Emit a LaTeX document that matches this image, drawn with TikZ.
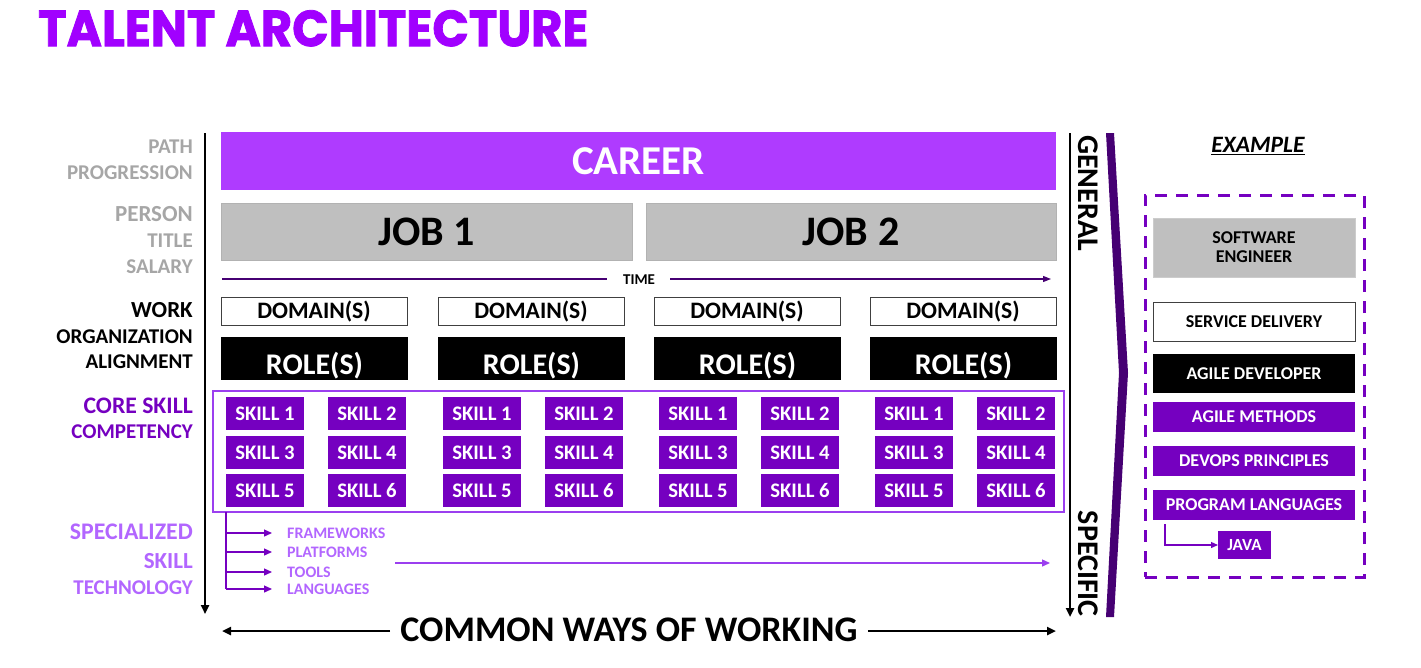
\documentclass[tikz,border=0pt]{standalone}
\usepackage{fontspec}
\setmainfont{Carlito}
\newfontfamily\titlefont{Poppins}[BoldFeatures={FakeBold=1.6}]
\usetikzlibrary{arrows.meta}
\definecolor{ttl}{HTML}{A100FF}
\definecolor{career}{HTML}{AF3BFF}
\definecolor{skl}{HTML}{7500C0}
\definecolor{dark}{HTML}{460073}
\definecolor{lgray}{HTML}{A6A6A6}
\definecolor{boxgray}{HTML}{BFBFBF}
\definecolor{lpurp}{HTML}{B266FF}
\definecolor{midp}{HTML}{9B3FEF}
\newcommand{\fs}[1]{\fontsize{#1}{#1}\selectfont\bfseries}
\tikzset{
  bx0/.style={inner sep=0pt, outer sep=0pt, anchor=north west, align=center},
  bx/.style={bx0, text depth=0pt},
  lbl/.style={inner sep=0pt, anchor=base east},
  careerbox/.style={bx, fill=career, text=white, font=\fs{41}, text height=26pt},
  jobbox/.style={bx, fill=boxgray, draw=black!30, line width=0.8pt, font=\fs{42}, text height=27pt},
  dombox/.style={bx, fill=white, draw=black!75, line width=1pt, font=\fs{23.6}, text height=15pt},
  rolebox/.style={bx, fill=black, text=white, font=\fs{30}, text height=19pt},
  skillbox/.style={bx, fill=skl, text=white, font=\fs{20.7}, text height=13pt},
  exbox/.style={bx, font=\fs{18}, text height=11.5pt},
  axis/.style={line width=2.6pt, -{Triangle[length=9pt,width=8pt]}},
  thin/.style={line width=1.3pt, -{Triangle[length=8pt,width=7pt]}},
}
\begin{document}
\begin{tikzpicture}[x=1pt,y=-1pt]
\useasboundingbox (0,0) rectangle (1421,667);
% title
\node[inner sep=0pt, anchor=north west, text=ttl] (title) at (38,10)
  {\resizebox{550pt}{36pt}{\titlefont\bfseries TALENT ARCHITECTURE}};
% left axis
\coordinate (la1) at (205,133);
\coordinate (la2) at (205,614);
\draw[axis] (la1) -- (la2);
% left labels
\node[lbl, text=lgray, font=\fs{21}] (l1) at (193,153) {PATH};
\node[lbl, text=lgray, font=\fs{21}] (l2) at (193,179) {PROGRESSION};
\node[lbl, text=lgray, font=\fs{23}] (l3) at (193,221) {PERSON};
\node[lbl, text=lgray, font=\fs{21}] (l4) at (193,247) {TITLE};
\node[lbl, text=lgray, font=\fs{21}] (l5) at (193,273) {SALARY};
\node[lbl, text=black, font=\fs{23}] (l6) at (193,317) {WORK};
\node[lbl, text=black, font=\fs{21}] (l7) at (193,343) {ORGANIZATION};
\node[lbl, text=black, font=\fs{21}] (l8) at (193,368) {ALIGNMENT};
\node[lbl, text=skl, font=\fs{23.7}] (l9) at (193,413) {CORE SKILL};
\node[lbl, text=skl, font=\fs{21}] (l10) at (193,438) {COMPETENCY};
\node[lbl, text=lpurp, font=\fs{23.8}] (l11) at (193,539) {SPECIALIZED};
\node[lbl, text=lpurp, font=\fs{23}] (l12) at (193,568) {SKILL};
\node[lbl, text=lpurp, font=\fs{21}] (l13) at (193,594) {TECHNOLOGY};
% career & jobs
\node[careerbox, minimum width=835pt, minimum height=58pt] (career) at (221,132) {CAREER};
\node[jobbox, minimum width=411pt, minimum height=57pt] (job1) at (221,203) {JOB 1};
\node[jobbox, minimum width=410pt, minimum height=57pt] (job2) at (646,203) {JOB 2};
% time
\node[inner sep=0pt, font=\fs{15}] (time) at (639,280) {TIME};
\coordinate (t1) at (222,279);
\coordinate (t2) at (607,279);
\coordinate (t3) at (670,279);
\coordinate (t4) at (1051,279);
\draw[dark, line width=1.2pt] (t1) -- (t2);
\draw[dark, line width=1.2pt, -{Triangle[length=8pt,width=6pt]}] (t3) -- (t4);
% domains, roles, skills
\foreach \gx [count=\g] in {221,438,654,870}{
  \node[dombox, minimum width=186pt, minimum height=28pt] (dom\g) at (\gx,297) {DOMAIN(S)};
  \node[rolebox, minimum width=187pt, minimum height=43pt] (role\g) at (\gx,337) {\raisebox{-6pt}{ROLE(S)}};
  \node[skillbox, minimum width=78pt, minimum height=33pt] (s\g a) at (\gx+5,397) {SKILL 1};
  \node[skillbox, minimum width=78pt, minimum height=33pt] (s\g b) at (\gx+107,397) {SKILL 2};
  \node[skillbox, minimum width=78pt, minimum height=33pt] (s\g c) at (\gx+5,436) {SKILL 3};
  \node[skillbox, minimum width=78pt, minimum height=33pt] (s\g d) at (\gx+107,436) {SKILL 4};
  \node[skillbox, minimum width=78pt, minimum height=33pt] (s\g e) at (\gx+5,474) {SKILL 5};
  \node[skillbox, minimum width=78pt, minimum height=33pt] (s\g f) at (\gx+107,474) {SKILL 6};
}
\node[bx, draw=midp, line width=1.2pt, minimum width=851pt, minimum height=121pt] (skills) at (213,391) {};
% specialized branches
\coordinate (br0) at (226,512);
\coordinate (br4) at (226,589);
\draw[skl, line width=1.3pt] (br0) -- (br4);
\foreach \yy/\tx [count=\i] in {533/FRAMEWORKS,552/PLATFORMS,572/TOOLS,589/LANGUAGES}{
  \coordinate (bs\i) at (226,\yy);
  \node[inner sep=0pt, anchor=west, text=lpurp, font=\fs{16}, text height=10.3pt, text depth=0pt] (sp\i) at (287,\yy) {\tx};
  \draw[skl, thin] (bs\i) -- (272,\yy);
}
\coordinate (lng1) at (395,563);
\coordinate (lng2) at (1050,563);
\draw[midp, thin] (lng1) -- (lng2);
% common ways
\node[inner sep=0pt, font=\fs{36}] (cw) at (629,630) {COMMON WAYS OF WORKING};
\coordinate (cwl) at (222,631);
\coordinate (cwr) at (1056,631);
\draw[line width=2.4pt, -{Triangle[length=9pt,width=8pt]}] (cw.west) ++(-10,1) -- (cwl);
\draw[line width=2.4pt, -{Triangle[length=9pt,width=8pt]}] (cw.east) ++(10,1) -- (cwr);
% right axis
\coordinate (ra1) at (1070,133);
\coordinate (ra2) at (1070,617);
\draw[axis] (ra1) -- (ra2);
\node[inner sep=0pt, rotate=-90, anchor=west, font=\fs{30}] (gen) at (1088,135) {GENERAL};
\node[inner sep=0pt, rotate=-90, anchor=east, font=\fs{30}] (spec) at (1088,617) {SPECIFIC};
% chevron
\fill[dark] (1106,133) -- (1114,133) -- (1128,373) -- (1114,617) -- (1106,617) -- (1119,373) -- cycle;
% example panel
\node[inner sep=0pt, font=\fs{23.5}\itshape] (ex) at (1258,146) {\underline{EXAMPLE}};
\node[bx, draw=skl, line width=3pt, dash pattern=on 12pt off 9pt, minimum width=219pt, minimum height=382pt] (dash) at (1145,195) {};
\node[bx0, font=\fs{18}, fill=boxgray, draw=black!20, line width=0.8pt, minimum width=202pt, minimum height=59pt] (se) at (1153,218) {SOFTWARE\\[1pt]ENGINEER};
\node[exbox, fill=white, draw=black!75, line width=1pt, minimum width=202pt, minimum height=39pt] (sd) at (1153,302) {SERVICE DELIVERY};
\node[exbox, fill=black, text=white, minimum width=202pt, minimum height=39pt] (ad) at (1153,354) {AGILE DEVELOPER};
\node[exbox, fill=skl, text=white, minimum width=202pt, minimum height=30pt] (am) at (1153,402) {AGILE METHODS};
\node[exbox, fill=skl, text=white, minimum width=202pt, minimum height=30pt] (dp) at (1153,446) {DEVOPS PRINCIPLES};
\node[exbox, fill=skl, text=white, minimum width=202pt, minimum height=30pt] (pl) at (1153,490) {PROGRAM LANGUAGES};
\node[bx, fill=skl, text=white, font=\fs{17}, text height=11pt, minimum width=53pt, minimum height=28pt] (java) at (1218,531) {JAVA};
\coordinate (jv0) at (1165,524);
\draw[skl, line width=1.2pt, -{Triangle[length=7pt,width=6pt]}] (jv0) |- (java.west);
\end{tikzpicture}
\end{document}
